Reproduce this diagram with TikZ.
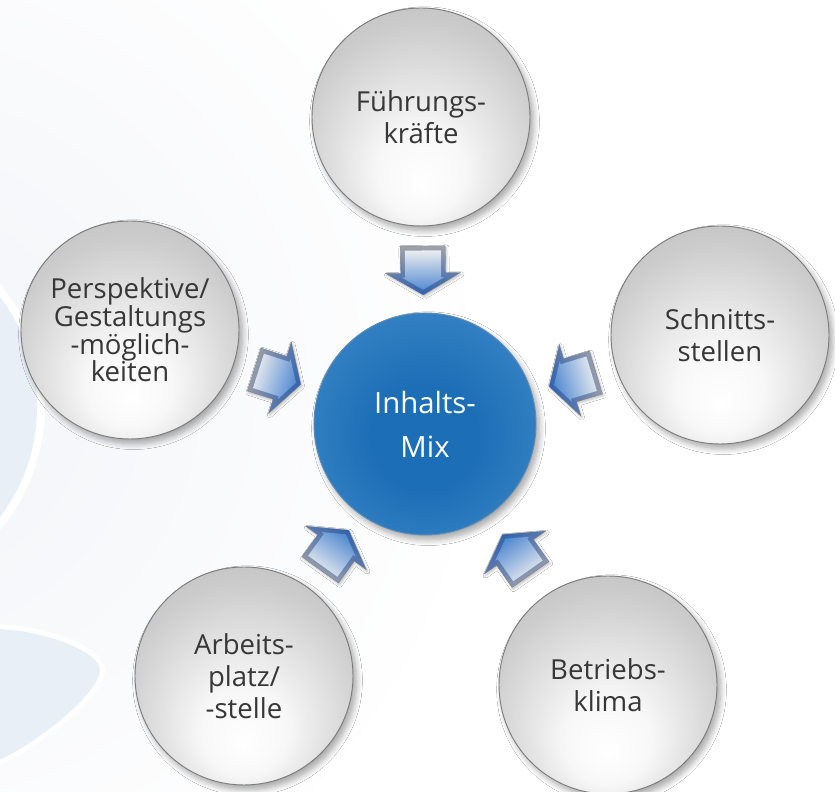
\documentclass[tikz,border=0pt]{standalone}
\usepackage{fontspec}
\setmainfont{Open Sans}
\usetikzlibrary{calc,shadows.blur}

\definecolor{paleback}{RGB}{242,244,248}
\definecolor{lobeblue}{RGB}{232,239,247}
\definecolor{balltext}{RGB}{55,55,55}
\definecolor{ballrim}{RGB}{125,125,125}
\definecolor{hubrim}{RGB}{95,140,180}
\definecolor{hubcore}{RGB}{28,110,182}
\definecolor{hubedge}{RGB}{78,150,210}
\definecolor{arrowtail}{RGB}{160,163,172}
\definecolor{arrowhead}{RGB}{45,95,175}
\definecolor{arrowtaillight}{RGB}{236,237,240}
\definecolor{arrowheadlight}{RGB}{85,140,210}

% shadings for the balls
\pgfdeclareradialshading{grayball}{\pgfpoint{0bp}{-16bp}}{%
  color(0bp)=(white); color(10bp)=(white!97!black); color(28bp)=(white!80!black);
  color(43bp)=(white!70!black); color(50bp)=(white!55!black)}
\pgfdeclareradialshading{blueball}{\pgfpoint{0bp}{-4bp}}{%
  color(0bp)=(hubcore); color(12bp)=(hubcore); color(40bp)=(hubedge!85!hubcore);
  color(47bp)=(hubedge); color(50bp)=(hubedge!60!white)}

\tikzset{
  ball/.style={circle, minimum size=6.54cm, inner sep=0pt, shading=grayball,
    draw=ballrim, line width=0.8pt, text=balltext, align=center,
    font=\fontsize{23.5}{27.2}\selectfont,
    blur shadow={shadow xshift=3pt, shadow yshift=-4pt, shadow blur steps=8, shadow blur radius=5pt, shadow opacity=35}},
  hub/.style={ball, minimum size=6.66cm, shading=blueball, draw=hubrim, text=white,
    font=\fontsize{25}{37.4}\selectfont},
  arrowouter/.style={top color=arrowtail, bottom color=arrowhead, draw=arrowtail!80!black, line width=0.3pt,
    blur shadow={shadow xshift=1pt, shadow yshift=-1.5pt, shadow blur steps=4, shadow opacity=25}},
  arrowinner/.style={top color=arrowtaillight, bottom color=arrowheadlight}
}

\begin{document}
\begin{tikzpicture}[x=0.03cm, y=0.03cm]
  \useasboundingbox (0,0) rectangle (835,792);

  % background decoration
  \begin{scope}
    \clip (0,0) rectangle (835,792);
    \fill[white] (0,0) rectangle (835,792);
    \shade[inner color=paleback, outer color=white] (-100,400) circle (600);
    \fill[white] (-145,385) circle (190);
    \fill[lobeblue] (-145,385) circle (182);
    \draw[white, line width=0.3cm] (-5,163) .. controls (45,162) and (100,140) .. (100,122)
      .. controls (100,100) and (40,50) .. (-5,30);
    \fill[lobeblue] (-5,163) .. controls (45,162) and (100,140) .. (100,122)
      .. controls (100,100) and (40,50) .. (-5,30) -- cycle;
  \end{scope}

  % centre and outer balls
  \node[hub] (mix) at (425,368) {Inhalts-\\Mix};
  \node[ball] (fk) at (421,675) {Führungs-\\kräfte};
  \node[ball, font=\fontsize{23.5}{23.6}\selectfont] (pg) at (130,462) {Perspektive/\\Gestaltungs\\-möglich-\\keiten};
  \node[ball] (st) at (720,457) {Schnitts-\\stellen};
  \node[ball] (ap) at (244,116) {Arbeits-\\platz/\\-stelle};
  \node[ball] (bk) at (608,107) {Betriebs-\\klima};

  % block arrows pointing into the centre
  \foreach \src/\ang in {fk/-89.3, pg/-17.7, st/196.8, ap/54.3, bk/125.0}{
    \pgfmathsetmacro\shang{\ang+90}
    \begin{scope}[shift={($(\src)!0.5!(mix)$)}, rotate=\ang]
      \shade[arrowouter, shading angle=\shang] (-24.5,-22.5) -- (2.5,-22.5) -- (2.5,-37.5) -- (24.5,0)
        -- (2.5,37.5) -- (2.5,22.5) -- (-24.5,22.5) -- cycle;
      \shade[arrowinner, shading angle=\shang] (-20,-18) -- (7,-18) -- (7,-21) -- (19.3,0)
        -- (7,21) -- (7,18) -- (-20,18) -- cycle;
    \end{scope}
  }
\end{tikzpicture}
\end{document}
